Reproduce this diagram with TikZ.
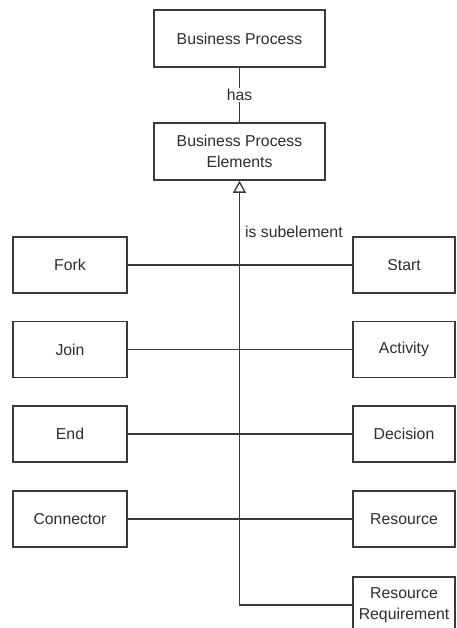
\documentclass[tikz,border=0pt]{standalone}
\usepackage{fontspec}
\setmainfont{Liberation Sans}
\usetikzlibrary{arrows.meta}
\definecolor{edge}{HTML}{3A3A3A}
\definecolor{txt}{HTML}{2E2E2E}
\tikzset{
  x=1pt, y=1pt,
  box/.style={draw=edge, line width=1.6pt, fill=white, inner sep=2pt, align=center,
    text=txt, font=\fontsize{15.8}{21}\selectfont},
  wbox/.style={box, minimum width=171pt, minimum height=57pt},
  lbox/.style={box, minimum width=114pt, minimum height=56pt},
  rbox/.style={box, minimum width=102pt, minimum height=56pt},
  link/.style={draw=edge, line width=1.3pt},
  lbl/.style={text=txt, font=\fontsize{15.8}{18}\selectfont, inner sep=1pt},
}
\begin{document}
\begin{tikzpicture}
\useasboundingbox (0,0) rectangle (456,-628);
\clip (0,0) rectangle (456,-628);
\node[wbox] (bp)  at (239.5,-38.5)  {Business Process};
\node[wbox] (bpe) at (239.5,-151.5) {Business Process\\Elements};
\node[lbox] (fork) at (70,-265)   {Fork};
\node[lbox] (join) at (70,-349.5) {Join};
\node[lbox] (end)  at (70,-434)   {End};
\node[lbox] (conn) at (70,-519)   {Connector};
\node[rbox] (start) at (404,-265)   {Start};
\node[rbox] (act)   at (404,-349.5) {Activity};
\node[rbox] (dec)   at (404,-434)   {Decision};
\node[rbox] (res)   at (404,-519)   {Resource};
\node[rbox] (rr)    at (404,-605)   {Resource\\Requirement};
\draw[link] (bp.south) -- node[lbl, fill=white] (has) {has} (bpe.north);
\draw[link] (fork.east) -- (start.west);
\draw[link] (join.east) -- (act.west);
\draw[link] (end.east) -- (dec.west);
\draw[link] (conn.east) -- (res.west);
\draw[link, -{Triangle[open, length=12pt, width=13pt, line width=1.3pt]}] (rr.west) -| (bpe.south);
\node[lbl, anchor=west] (sub) at (244,-232) {is subelement};
\end{tikzpicture}
\end{document}
